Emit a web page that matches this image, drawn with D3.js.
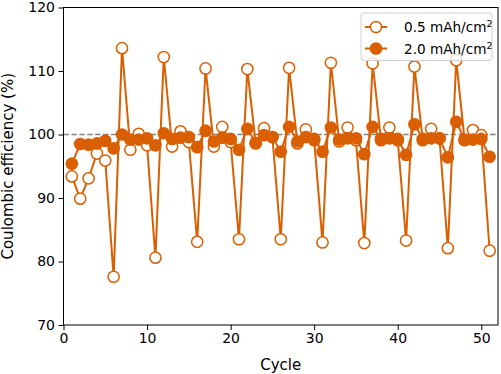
<!DOCTYPE html>
<html>
<head>
<meta charset="utf-8">
<script src="https://cdn.jsdelivr.net/npm/d3@7"></script>
<style>
  body { margin: 0; background: #fff; }
  text { font-family: "DejaVu Sans", sans-serif; fill: #000; }
</style>
</head>
<body>
<div id="chart"></div>
<script>
// cycle numbers 1..51
const cycles = d3.range(1, 52);

// 0.5 mAh/cm2 (open markers)
const ce05 = [93.4, 89.9, 93.1, 97.0, 95.9, 77.6, 113.6, 97.6, 100.1, 98.3,
              80.6, 112.2, 98.1, 100.5, 98.8, 83.1, 110.4, 98.1, 101.2, 98.8,
              83.5, 110.3, 98.6, 101.0, 99.6, 83.5, 110.5, 98.6, 100.8, 99.1,
              83.0, 111.3, 98.9, 101.1, 99.1, 82.9, 111.2, 99.1, 101.1, 99.1,
              83.3, 110.7, 99.1, 100.9, 99.4, 82.1, 111.7, 99.1, 100.7, 99.9,
              81.7];

// 2.0 mAh/cm2 (filled markers)
const ce20 = [95.4, 98.5, 98.4, 98.6, 99.0, 97.8, 100.0, 99.2, 99.2, 99.4,
              98.3, 100.2, 99.3, 99.5, 99.6, 98.0, 100.6, 98.9, 99.5, 99.3,
              97.6, 100.9, 98.7, 99.9, 99.6, 97.3, 101.2, 98.9, 99.6, 99.3,
              97.3, 101.1, 99.2, 99.4, 99.4, 96.9, 101.2, 99.3, 99.4, 99.3,
              96.8, 101.6, 99.3, 99.4, 99.4, 96.4, 102.0, 99.2, 99.2, 99.3,
              96.5];

const xTicks = [0, 10, 20, 30, 40, 50];
const yTicks = [70, 80, 90, 100, 110, 120];
const seriesNames = ["0.5 mAh/cm", "2.0 mAh/cm"];

const color = "#d95f02";
const W = 501, H = 374;
const m = { left: 63.5, right: 3, top: 7.5, bottom: 49 };

const svg = d3.select("#chart").append("svg")
    .attr("width", W).attr("height", H);

const x = d3.scaleLinear().domain([0, 52]).range([m.left, W - m.right]);
const y = d3.scaleLinear().domain([70, 120]).range([H - m.bottom, m.top]);

// reference line at 100 %
svg.append("line")
    .attr("x1", x(0)).attr("x2", x(52))
    .attr("y1", y(100)).attr("y2", y(100))
    .attr("stroke", "#808080").attr("stroke-width", 1.5)
    .attr("stroke-dasharray", "5.5,2.4");

const line = d3.line().x((d, i) => x(cycles[i])).y(d => y(d));

// draw a series: line + markers
function drawSeries(vals, filled) {
    svg.append("path")
        .attr("d", line(vals))
        .attr("fill", "none")
        .attr("stroke", color)
        .attr("stroke-width", 2);
    svg.append("g").selectAll("circle")
        .data(vals)
        .join("circle")
        .attr("cx", (d, i) => x(cycles[i]))
        .attr("cy", d => y(d))
        .attr("r", 5.6)
        .attr("fill", filled ? color : "#fff")
        .attr("stroke", color)
        .attr("stroke-width", 1.5);
}
drawSeries(ce05, false);
drawSeries(ce20, true);

// axes
const xAxis = svg.append("g")
    .attr("transform", `translate(0,${H - m.bottom})`)
    .call(d3.axisBottom(x).tickValues(xTicks).tickSize(5).tickPadding(3.5));
const yAxis = svg.append("g")
    .attr("transform", `translate(${m.left},0)`)
    .call(d3.axisLeft(y).tickValues(yTicks).tickSize(5).tickPadding(3.5));
[xAxis, yAxis].forEach(a => {
    a.selectAll("text").style("font-size", "14px").style("font-family", "DejaVu Sans");
    a.select(".domain").remove();
    a.selectAll("line").attr("stroke", "#000").attr("stroke-width", 1);
});

// frame
svg.append("rect")
    .attr("x", x(0)).attr("y", y(120))
    .attr("width", x(52) - x(0)).attr("height", y(70) - y(120))
    .attr("fill", "none").attr("stroke", "#000").attr("stroke-width", 1);

// axis titles
svg.append("text")
    .attr("x", (x(0) + x(52)) / 2).attr("y", 369.5)
    .attr("text-anchor", "middle")
    .style("font-size", "15px")
    .text("Cycle");
svg.append("text")
    .attr("transform", `translate(12.5,${(y(70) + y(120)) / 2}) rotate(-90)`)
    .attr("text-anchor", "middle")
    .style("font-size", "15px")
    .text("Coulombic efficiency (%)");

// legend
const lg = svg.append("g");
lg.append("rect")
    .attr("x", 361).attr("y", 13).attr("width", 131).attr("height", 47.5)
    .attr("rx", 3).attr("fill", "#fff").attr("fill-opacity", 0.8)
    .attr("stroke", "#d0d0d0").attr("stroke-width", 1);
seriesNames.forEach((name, i) => {
    const cy = 27 + i * 21.5;
    lg.append("line")
        .attr("x1", 365).attr("x2", 387).attr("y1", cy).attr("y2", cy)
        .attr("stroke", color).attr("stroke-width", 2);
    lg.append("circle")
        .attr("cx", 376).attr("cy", cy).attr("r", 5.6)
        .attr("fill", i === 0 ? "#fff" : color)
        .attr("stroke", color).attr("stroke-width", 1.5);
    const t = lg.append("text")
        .attr("x", 404).attr("y", cy + 5)
        .style("font-size", "13.6px")
        .text(name);
    t.append("tspan")
        .attr("dy", -5).style("font-size", "9.5px")
        .text("2");
});
</script>
</body>
</html>
